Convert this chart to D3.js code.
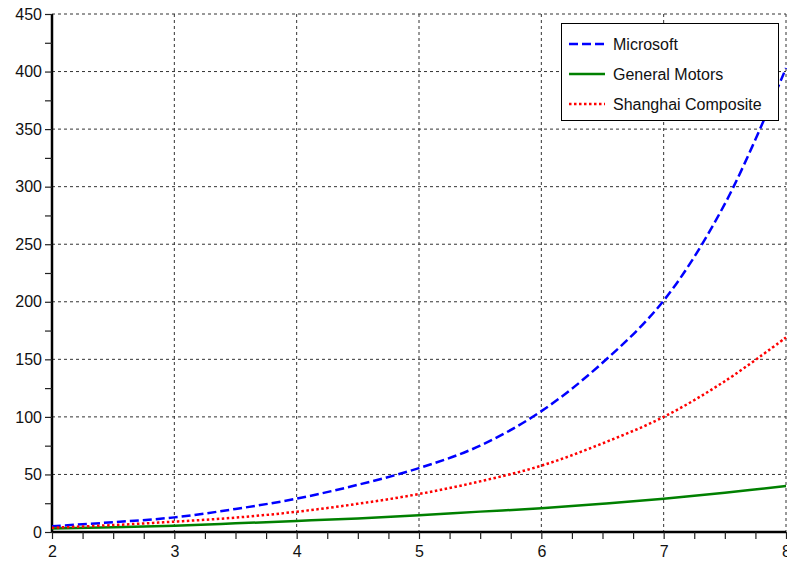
<html>
<head>
<script src="https://d3js.org/d3.v7.min.js"></script>
<style>
body { margin: 0; background: #fff; font-family: 'Liberation Sans', Arial, sans-serif; }
svg text { font-family: 'Liberation Sans', Arial, sans-serif; }
</style>
</head>
<body>
<svg width="787" height="561"></svg>
<script>

// values
var xs = [2, 2.5, 3, 3.5, 4, 4.5, 5, 5.5, 6, 6.5, 7, 7.5, 8];
var microsoft = [5, 8.5, 12.7, 20, 29, 41, 55.5, 75, 105, 147, 201, 285, 403];
var generalMotors = [3, 4.2, 5.5, 7.5, 9.6, 11.8, 14.6, 17.7, 20.6, 24.5, 28.8, 34, 40];
var shanghai = [3.7, 6, 9, 12.5, 17.6, 24.5, 33, 44, 57.6, 77, 100, 131, 169];
var seriesNames = ["Microsoft", "General Motors", "Shanghai Composite"];
var xTicks = [2, 3, 4, 5, 6, 7, 8];
var yTicks = [0, 50, 100, 150, 200, 250, 300, 350, 400, 450];

var svg = d3.select("svg");
var pLeft = 52, pRight = 786, pTop = 14, pBottom = 532;

var x = d3.scaleLinear().domain([2, 8]).range([pLeft, pRight]);
var y = d3.scaleLinear().domain([0, 450]).range([pBottom, pTop]);

// grid
svg.selectAll("line.vgrid").data(xTicks.slice(1)).enter().append("line")
  .attr("x1", function (d) { return x(d); }).attr("x2", function (d) { return x(d); })
  .attr("y1", pTop).attr("y2", pBottom)
  .attr("stroke", "#333").attr("stroke-dasharray", "3,3").attr("stroke-width", 1);
svg.selectAll("line.hgrid").data(yTicks.slice(1)).enter().append("line")
  .attr("x1", pLeft).attr("x2", pRight)
  .attr("y1", function (d) { return y(d); }).attr("y2", function (d) { return y(d); })
  .attr("stroke", "#333").attr("stroke-dasharray", "3,3").attr("stroke-width", 1);

// axes
var xMinor = d3.range(2, 8.001, 0.25);
var yMinor = d3.range(0, 450.001, 25);

var xAxis = d3.axisBottom(x).tickValues(xMinor).tickSize(7)
  .tickFormat(function (d) { return Number.isInteger(d) ? d : ""; });
var gx = svg.append("g").attr("transform", "translate(0," + pBottom + ")").call(xAxis);
gx.select(".domain").attr("stroke-width", 2.5).attr("d", "M" + pLeft + ",0H" + pRight);
gx.selectAll(".tick line").attr("stroke", "#222").attr("stroke-width", 1.2);
gx.selectAll(".tick text").attr("font-size", 16).attr("fill", "#111").attr("y", 14);

var yAxis = d3.axisLeft(y).tickValues(yMinor).tickSize(7)
  .tickFormat(function (d) { return d % 50 === 0 ? d : ""; });
var gy = svg.append("g").attr("transform", "translate(" + pLeft + ",0)").call(yAxis);
gy.select(".domain").attr("stroke-width", 2.5).attr("d", "M0," + pTop + "V" + pBottom);
gy.selectAll(".tick line").attr("stroke", "#222").attr("stroke-width", 1.2);
gy.selectAll(".tick text").attr("font-size", 16).attr("fill", "#111").attr("x", -10);

// lines
var series = [
  { name: seriesNames[0], values: microsoft, color: "#0000ff", dash: "9,4" },
  { name: seriesNames[1], values: generalMotors, color: "#008000", dash: null },
  { name: seriesNames[2], values: shanghai, color: "#ff0000", dash: "2.5,2.5" }
];

var line = d3.line()
  .x(function (d, i) { return x(xs[i]); })
  .y(function (d) { return y(d); })
  .curve(d3.curveCatmullRom);

svg.append("defs").append("clipPath").attr("id", "clip")
  .append("rect").attr("x", pLeft).attr("y", pTop).attr("width", pRight - pLeft + 2).attr("height", pBottom - pTop);

svg.selectAll("path.series").data(series).enter().append("path")
  .attr("class", "series")
  .attr("clip-path", "url(#clip)")
  .attr("d", function (s) { return line(s.values); })
  .attr("fill", "none")
  .attr("stroke", function (s) { return s.color; })
  .attr("stroke-width", 2.5)
  .attr("stroke-dasharray", function (s) { return s.dash; });

// legend
var lg = svg.append("g");
lg.append("rect").attr("x", 561.5).attr("y", 23.5).attr("width", 217).attr("height", 97)
  .attr("fill", "#fff").attr("stroke", "#000").attr("stroke-width", 1);
series.forEach(function (s, i) {
  var ly = 44 + i * 30;
  lg.append("line").attr("x1", 569).attr("x2", 605).attr("y1", ly).attr("y2", ly)
    .attr("stroke", s.color).attr("stroke-width", 2.5).attr("stroke-dasharray", s.dash);
  lg.append("text").attr("x", 613).attr("y", ly + 5.5).attr("font-size", 16)
    .attr("fill", "#111").text(s.name);
});

</script>
</body>
</html>
